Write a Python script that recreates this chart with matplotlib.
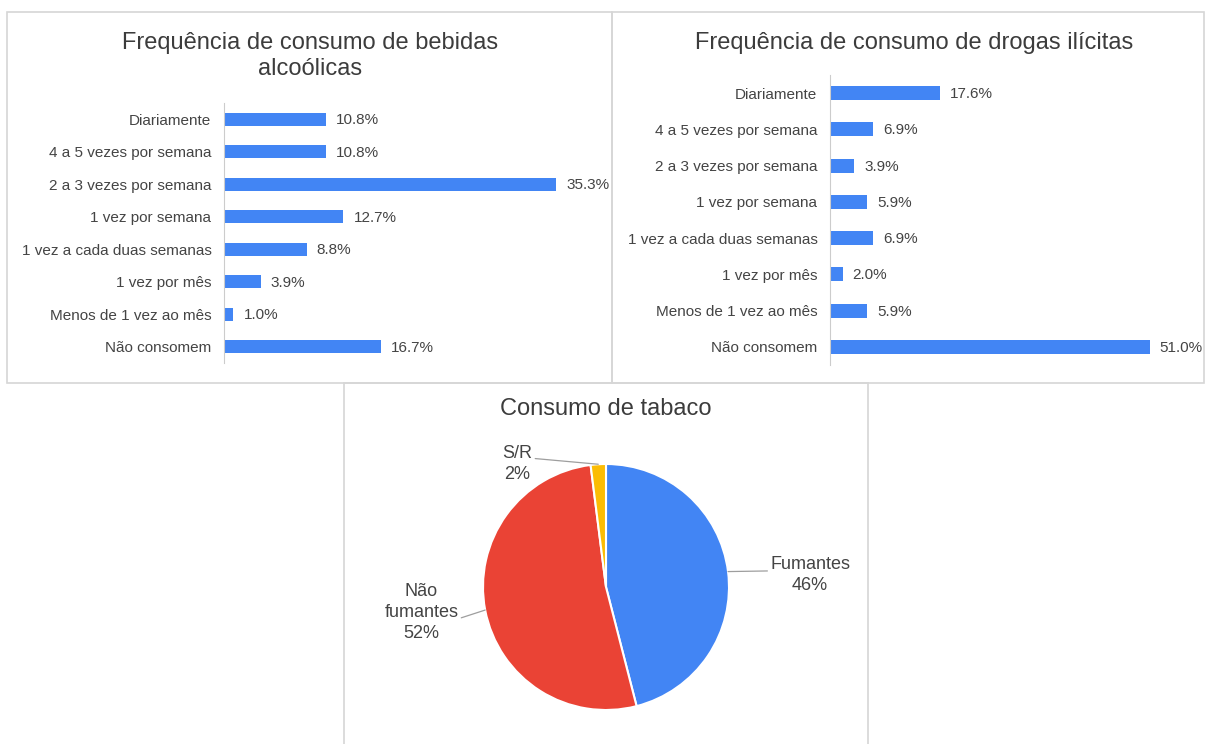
import matplotlib.pyplot as plt
import numpy as np
from matplotlib.patches import Rectangle

plt.rcParams['font.family'] = ['Liberation Sans', 'DejaVu Sans']

# Colors (Google Sheets look)
BLUE = '#4285F4'
RED = '#EA4335'
YELLOW = '#FBBC04'
TEXT_COLOR = '#444444'
TITLE_COLOR = '#3c3c3c'
BORDER_COLOR = '#d6d6d6'
AXIS_COLOR = '#cccccc'

# Data
freq_categories = ['Diariamente', '4 a 5 vezes por semana', '2 a 3 vezes por semana',
                   '1 vez por semana', '1 vez a cada duas semanas', '1 vez por mês',
                   'Menos de 1 vez ao mês', 'Não consomem']
alcohol_pct = [10.8, 10.8, 35.3, 12.7, 8.8, 3.9, 1.0, 16.7]
drugs_pct = [17.6, 6.9, 3.9, 5.9, 6.9, 2.0, 5.9, 51.0]

tobacco_labels = ['Fumantes', 'Não\nfumantes', 'S/R']
tobacco_pct = [46, 52, 2]
tobacco_colors = [BLUE, RED, YELLOW]

W, H = 1205, 744


def px_rect(x0, y0, x1, y1):
    # pixel box (top-left origin) -> figure fraction rect
    return [x0 / W, 1 - y1 / H, (x1 - x0) / W, (y1 - y0) / H]


fig = plt.figure(figsize=(W / 100, H / 100), dpi=100)
fig.patch.set_facecolor('white')

# panel borders
for x0, y0, x1, y1 in [(7, 12, 612, 383), (612, 12, 1204, 383), (344, 383, 868, 746)]:
    r = px_rect(x0, y0, x1, y1)
    fig.patches.append(Rectangle((r[0], r[1]), r[2], r[3], transform=fig.transFigure,
                                 fill=False, edgecolor=BORDER_COLOR, linewidth=1.2))


def bar_panel(ax, cats, vals, xmax, height):
    y = np.arange(len(cats))
    ax.barh(y, vals, height=height, color=BLUE)
    ax.set_ylim(len(cats) - 0.5, -0.5)
    ax.set_xlim(0, xmax)
    ax.set_yticks(y, cats)
    ax.set_xticks([])
    ax.tick_params(axis='y', length=0, pad=9, labelsize=11, labelcolor=TEXT_COLOR)
    for s in ['top', 'right', 'bottom']:
        ax.spines[s].set_visible(False)
    ax.spines['left'].set_color(AXIS_COLOR)
    ax.set_facecolor('none')
    for yi, v in zip(y, vals):
        ax.annotate(f'{v:.1f}%', (v, yi), xytext=(10, -1), textcoords='offset pixels',
                    ha='left', va='center', fontsize=11, color=TEXT_COLOR,
                    annotation_clip=False)


# Alcohol
ax1 = fig.add_axes(px_rect(224, 103, 224 + 36 * 9.405, 363))
bar_panel(ax1, freq_categories, alcohol_pct, 36, 0.4)
fig.text(310 / W, 1 - 56 / H, 'Frequência de consumo de bebidas\nalcoólicas',
         ha='center', va='center', fontsize=17, color=TITLE_COLOR, linespacing=1.2)

# Drugs
ax2 = fig.add_axes(px_rect(830, 75, 830 + 55 * 6.27, 365))
bar_panel(ax2, freq_categories, drugs_pct, 55, 0.38)
fig.text(914 / W, 1 - 43 / H, 'Frequência de consumo de drogas ilícitas',
         ha='center', va='center', fontsize=17, color=TITLE_COLOR)

# Tobacco pie
cx, cy, R = 606, 587, 123
lim = 1.03
ax3 = fig.add_axes(px_rect(cx - R * lim, cy - R * lim, cx + R * lim, cy + R * lim))
wedges, _ = ax3.pie(tobacco_pct, colors=tobacco_colors, startangle=90, counterclock=False,
                    wedgeprops=dict(edgecolor='white', linewidth=1.5))
ax3.set_xlim(-lim, lim)
ax3.set_ylim(-lim, lim)
ax3.set_aspect('equal')
ax3.axis('off')

label_pos = [(1.66, 0.10), (-1.50, -0.21), (-0.72, 1.0)]
label_rel = [(0.0, 0.6), (1.0, 0.4), (1.0, 0.65)]
for w, lab, pct, (tx, ty), rel in zip(wedges, tobacco_labels, tobacco_pct, label_pos, label_rel):
    mid = np.deg2rad((w.theta1 + w.theta2) / 2)
    ax3.annotate(f'{lab}\n{pct}%', xy=(np.cos(mid), np.sin(mid)), xytext=(tx, ty),
                 ha='center', va='center', fontsize=13, color=TEXT_COLOR,
                 linespacing=1.3, annotation_clip=False,
                 arrowprops=dict(arrowstyle='-', color='#9e9e9e', lw=0.9,
                                 shrinkA=0, shrinkB=0, relpos=rel))

fig.text(606 / W, 1 - 409 / H, 'Consumo de tabaco', ha='center', va='center',
         fontsize=17, color=TITLE_COLOR)

plt.savefig('out.png', dpi=100, facecolor='white')
plt.close()
